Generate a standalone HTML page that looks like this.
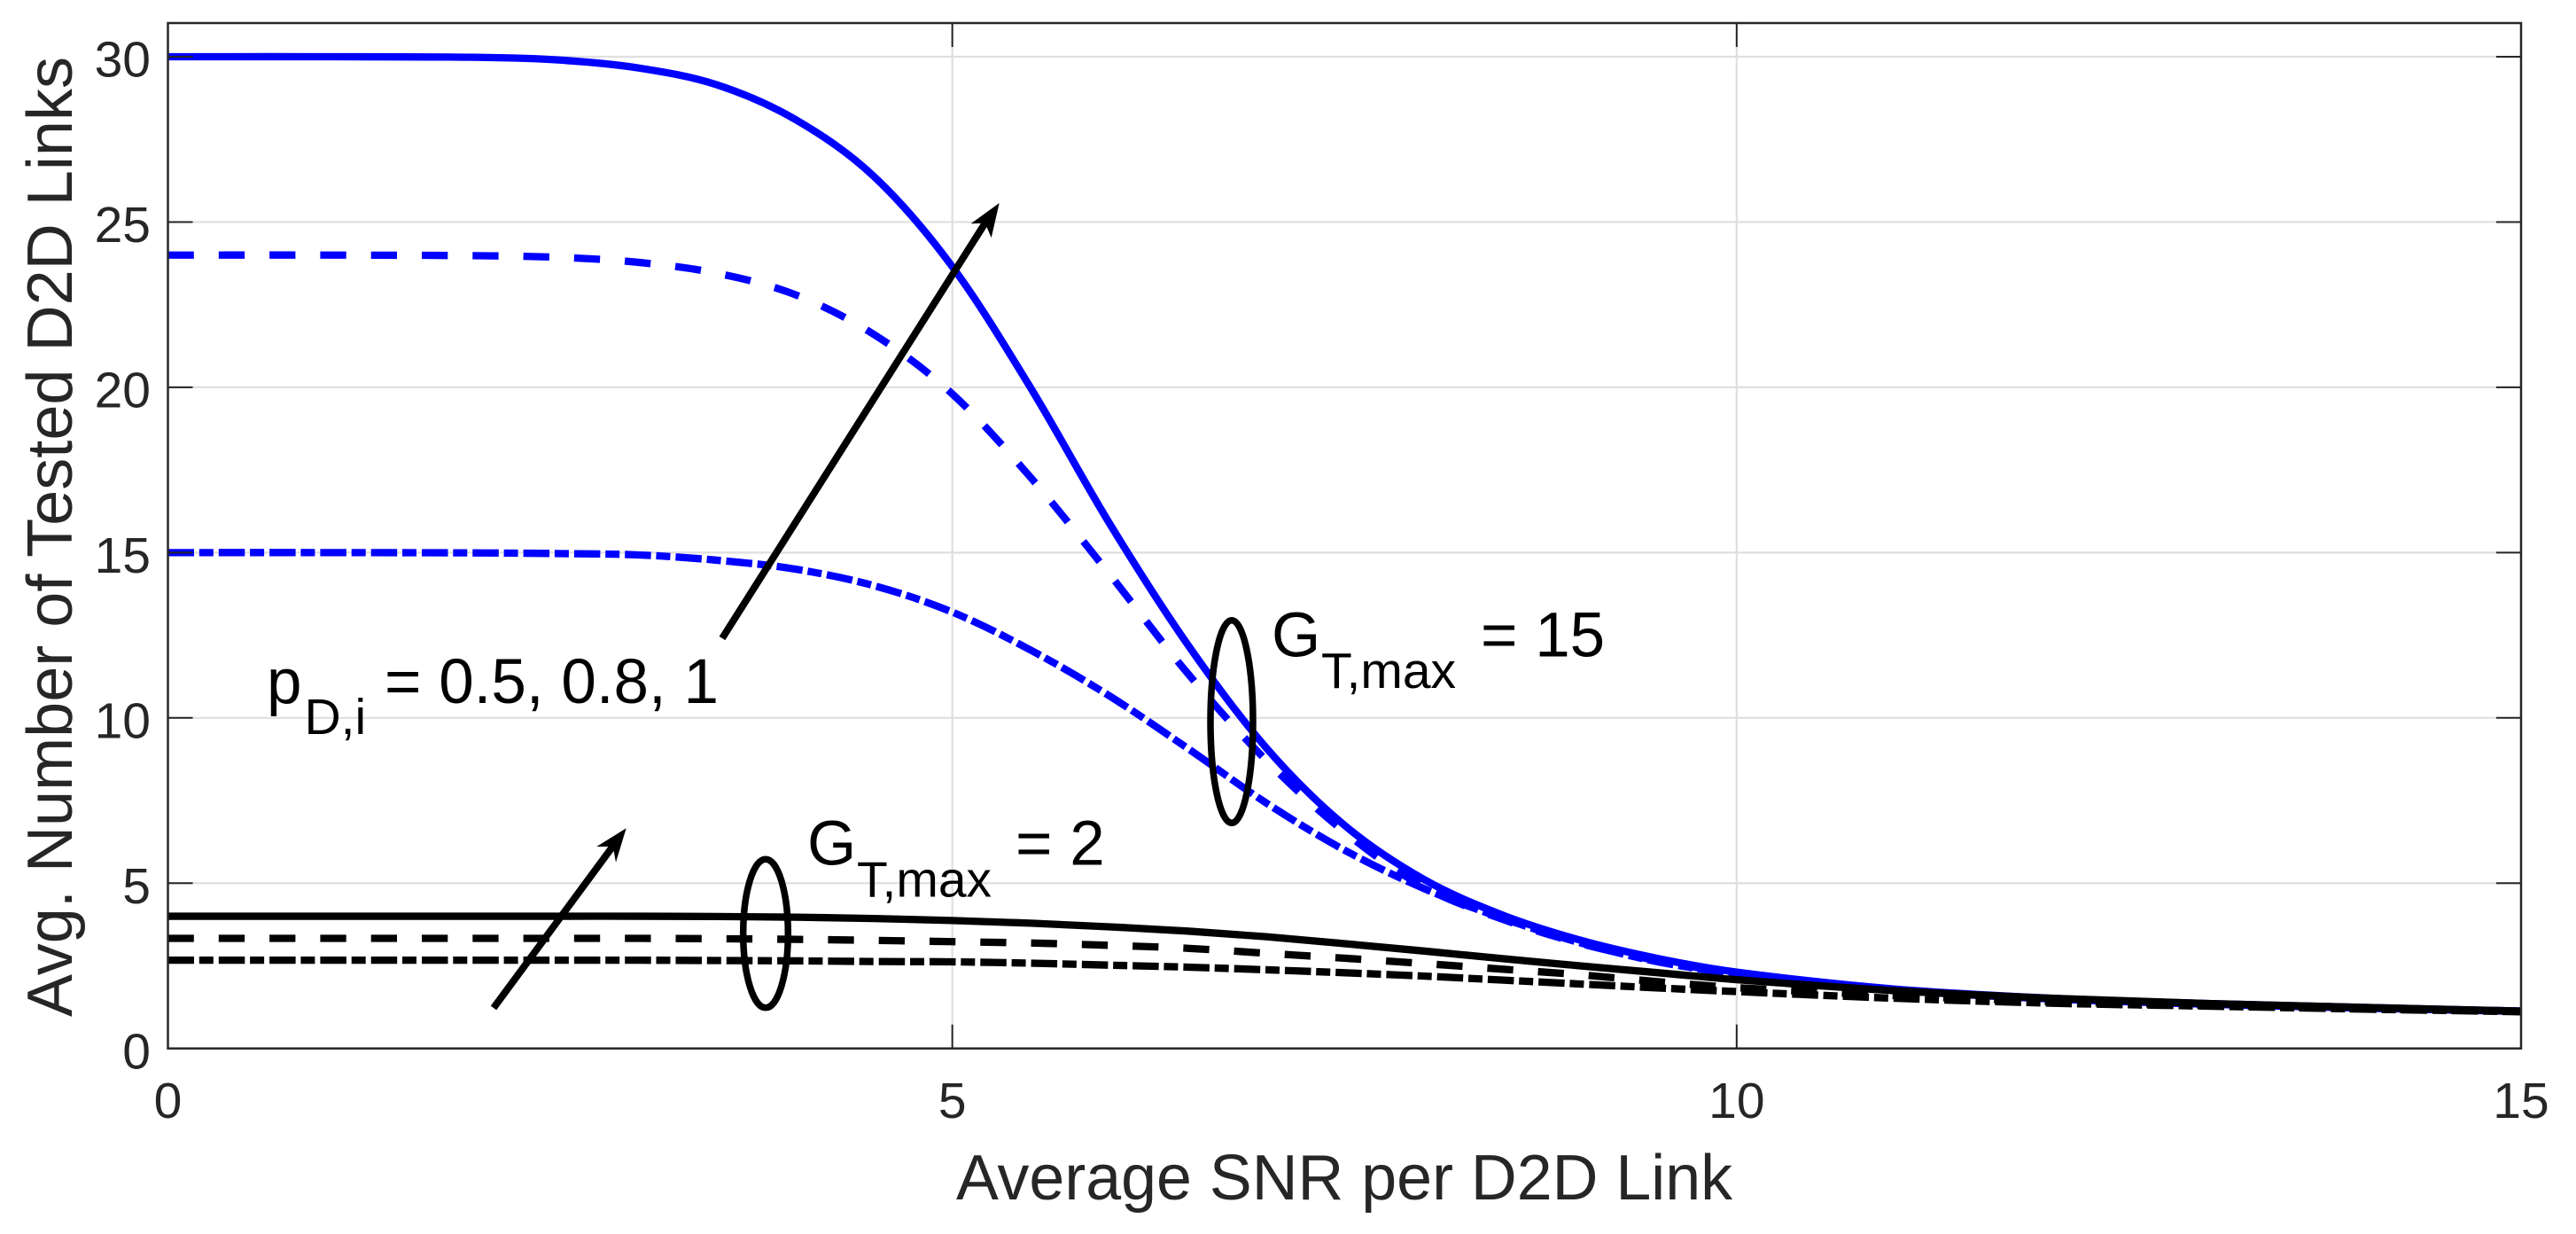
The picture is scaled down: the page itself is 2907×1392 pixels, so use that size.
<!DOCTYPE html>
<html lang="en">
<head>
<meta charset="utf-8">
<title>Avg. Number of Tested D2D Links vs. Average SNR</title>
<style>
html,body{margin:0;padding:0;background:#fff;}
svg{display:block;font-family:"Liberation Sans",Arial,sans-serif;}
</style>
</head>
<body>
<svg id="chart" xmlns="http://www.w3.org/2000/svg" width="2907" height="1392" viewBox="0 0 2907 1392">
  <rect x="0" y="0" width="2907" height="1392" fill="#fff"/>
  <defs><clipPath id="plot-clip"><rect x="189.5" y="26" width="2655.5" height="1156.7"/></clipPath></defs>
  <g id="grid"></g>
  <g id="series" clip-path="url(#plot-clip)"></g>
  <g id="axes"></g>

  <text x="1517" y="1353" font-size="72" fill="#262626" text-anchor="middle" textLength="876" lengthAdjust="spacingAndGlyphs">Average SNR per D2D Link</text>
  <text transform="translate(81,605.5) rotate(-90)" font-size="72" fill="#262626" text-anchor="middle" textLength="1083" lengthAdjust="spacingAndGlyphs">Avg. Number of Tested D2D Links</text>

  <g fill="#000">
    <text x="301" y="793" font-size="71">p</text>
    <text x="343.5" y="828" font-size="57">D,i</text>
    <text x="434" y="793" font-size="71">= 0.5, 0.8, 1</text>
  </g>
  <g fill="#000">
    <text x="1435" y="740.5" font-size="71">G</text>
    <text x="1491" y="776" font-size="57">T,max</text>
    <text x="1671" y="740.5" font-size="71">= 15</text>
  </g>
  <g fill="#000">
    <text x="911" y="975.5" font-size="71">G</text>
    <text x="967" y="1011.5" font-size="57">T,max</text>
    <text x="1146" y="975.5" font-size="71">= 2</text>
  </g>

  <ellipse cx="1390" cy="814" rx="24" ry="114.3" fill="none" stroke="#000" stroke-width="7.5"/>
  <ellipse cx="864" cy="1053" rx="25.3" ry="83.8" fill="none" stroke="#000" stroke-width="7.5"/>

  <g>
    <line x1="815" y1="720" x2="1114" y2="248" stroke="#000" stroke-width="8"/>
    <polygon points="1127.7,229 1095.7,252.3 1111.7,251.7 1118.7,268.3" fill="#000"/>
  </g>
  <g>
    <line x1="557" y1="1137" x2="695" y2="950" stroke="#000" stroke-width="8"/>
    <polygon points="706.7,934.3 673.3,955 691.7,955 695,972.7" fill="#000"/>
  </g>
</svg>
<script>
var snrGrid = [0,1,2,2.5,3,3.5,4,4.5,5,5.5,6,6.5,7,7.5,8,8.5,9,9.5,10,11,12,13,14,15];
var blueSolid = [30,30,29.98,29.9,29.66,29.15,28.1,26.38,23.65,19.98,15.9,12.22,9.1,6.75,5.13,4.05,3.28,2.72,2.31,1.8,1.52,1.36,1.24,1.13];
var blueDashed = [24,24,23.98,23.93,23.78,23.45,22.8,21.6,19.8,17.27,14.36,11.35,8.72,6.55,4.9,3.92,3.18,2.65,2.28,1.79,1.51,1.35,1.23,1.13];
var blueDashDot = [15,15,14.99,14.97,14.93,14.77,14.5,14.0,13.2,12.05,10.67,9.08,7.43,6.0,4.85,3.95,3.2,2.62,2.26,1.77,1.5,1.34,1.22,1.12];
var blackSolid = [4,4,4,4,4,3.99,3.97,3.93,3.87,3.79,3.68,3.55,3.38,3.17,2.95,2.72,2.5,2.29,2.08,1.75,1.52,1.36,1.24,1.13];
var blackDashed = [3.33,3.33,3.33,3.33,3.33,3.32,3.3,3.27,3.23,3.19,3.12,3.03,2.88,2.73,2.57,2.4,2.23,2.02,1.84,1.6,1.42,1.31,1.2,1.12];
var blackDashDot = [2.67,2.67,2.67,2.67,2.67,2.66,2.65,2.63,2.62,2.58,2.52,2.46,2.38,2.29,2.19,2.07,1.95,1.83,1.72,1.52,1.37,1.28,1.19,1.11];
var xTicks = [0,5,10,15];
var yTicks = [0,5,10,15,20,25,30];

var NS = 'http://www.w3.org/2000/svg';
var L = 189.5, R = 2845, T = 26, B = 1182.7;
function xScale(v){ return L + (v / 15) * (R - L); }
function yScale(v){ return 1182.7 - v * 37.29; }
function make(tag, parent, attrs){
  var el = document.createElementNS(NS, tag);
  for (var k in attrs) el.setAttribute(k, attrs[k]);
  parent.appendChild(el);
  return el;
}
function smoothPath(xs, ys){
  var p = xs.map(function(x, i){ return [xScale(x), yScale(ys[i])]; });
  var d = 'M' + p[0][0].toFixed(2) + ' ' + p[0][1].toFixed(2);
  for (var i = 0; i < p.length - 1; i++){
    var p0 = p[Math.max(i - 1, 0)], p1 = p[i], p2 = p[i + 1], p3 = p[Math.min(i + 2, p.length - 1)];
    var h = p2[0] - p1[0];
    var m1 = (p2[1] - p0[1]) / (p2[0] - p0[0]);
    var m2 = (p3[1] - p1[1]) / (p3[0] - p1[0]);
    var c1x = p1[0] + h / 3, c1y = p1[1] + m1 * h / 3;
    var c2x = p2[0] - h / 3, c2y = p2[1] - m2 * h / 3;
    d += 'C' + c1x.toFixed(2) + ' ' + c1y.toFixed(2) + ' ' + c2x.toFixed(2) + ' ' + c2y.toFixed(2) + ' ' + p2[0].toFixed(2) + ' ' + p2[1].toFixed(2);
  }
  return d;
}

var gridG = document.getElementById('grid');
var axesG = document.getElementById('axes');
var seriesG = document.getElementById('series');

xTicks.forEach(function(v){
  var x = xScale(v);
  if (v > 0 && v < 15){
    var gl = make('line', gridG, {x1:x, x2:x, y1:T, y2:B, stroke:'#dfdfdf', 'stroke-width':2.2});
    
    
    var t1 = make('line', axesG, {x1:x, x2:x, y1:B, y2:B - 27, stroke:'#262626', 'stroke-width':2});
    
    
    var t2 = make('line', axesG, {x1:x, x2:x, y1:T, y2:T + 27, stroke:'#262626', 'stroke-width':2});
    
    
  }
  var lab = make('text', axesG, {x:x, y:1261, 'font-size':57, fill:'#262626', 'text-anchor':'middle'});
  lab.textContent = String(v);
  
  
});

yTicks.forEach(function(v){
  var y = yScale(v);
  if (v > 0){
    var gl = make('line', gridG, {x1:L, x2:R, y1:y, y2:y, stroke:'#dfdfdf', 'stroke-width':2.2});
    
    
    var t1 = make('line', axesG, {x1:L, x2:L + 28, y1:y, y2:y, stroke:'#262626', 'stroke-width':2});
    
    
    var t2 = make('line', axesG, {x1:R, x2:R - 28, y1:y, y2:y, stroke:'#262626', 'stroke-width':2});
    
    
  }
  var lab = make('text', axesG, {x:170, y:y + 22.7, 'font-size':57, fill:'#262626', 'text-anchor':'end'});
  lab.textContent = String(v);
  
  
});

var box = make('rect', axesG, {x:L, y:T, width:R - L, height:B - T, fill:'none', stroke:'#262626', 'stroke-width':2.5});



var dashA = '29.3 28';
var dashB = '29.5 5.8 16 6';
var seriesList = [
  ['line-blue-dashdot-p05', blueDashDot, '#0000ff', dashB],
  ['line-blue-dashed-p08', blueDashed, '#0000ff', dashA],
  ['line-blue-solid-p1', blueSolid, '#0000ff', 'none'],
  ['line-black-dashdot-p05', blackDashDot, '#000000', dashB],
  ['line-black-dashed-p08', blackDashed, '#000000', dashA],
  ['line-black-solid-p1', blackSolid, '#000000', 'none']
];
seriesList.forEach(function(s){
  var path = make('path', seriesG, {d:smoothPath(snrGrid, s[1]), fill:'none', stroke:s[2], 'stroke-width':8.3, 'stroke-dasharray':s[3], 'stroke-linejoin':'round'});
  
  
});
</script>
</body>
</html>
